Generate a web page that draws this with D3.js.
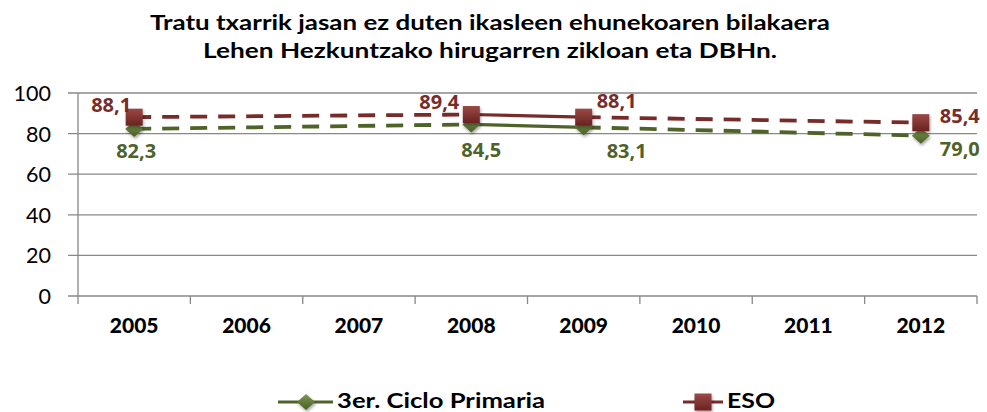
<!DOCTYPE html>
<html><head><meta charset="utf-8">
<script src="https://cdn.jsdelivr.net/npm/d3@7"></script>
<style>body{margin:0;background:#fff;}svg{display:block;}</style>
</head><body>
<script>
const categories = ["2005","2006","2007","2008","2009","2010","2011","2012"];
const primaria = [82.3, null, null, 84.5, 83.1, null, null, 79.0];
const eso = [88.1, null, null, 89.4, 88.1, null, null, 85.4];
const yTicks = [0,20,40,60,80,100];
const titleLines = ["Tratu txarrik jasan  ez duten ikasleen ehunekoaren bilakaera","Lehen Hezkuntzako hirugarren  zikloan eta DBHn."];
const seriesNames = ["3er. Ciclo Primaria","ESO"];

const W=987,H=412;
const green="#4F6228", red="#772C2A";
const svg=d3.select("body").append("svg").attr("width",W).attr("height",H);
const defs=svg.append("defs");
const f=defs.append("filter").attr("id","sh").attr("x","-50%").attr("y","-50%").attr("width","200%").attr("height","200%");
f.append("feDropShadow").attr("dx",1).attr("dy",2).attr("stdDeviation",1.5).attr("flood-color","#000").attr("flood-opacity",0.35);
const gr=defs.append("linearGradient").attr("id","gRed").attr("x1",0).attr("y1",0).attr("x2",0).attr("y2",1);
gr.append("stop").attr("offset","0%").attr("stop-color","#9a4a47");
gr.append("stop").attr("offset","100%").attr("stop-color","#6a2220");
const gg=defs.append("linearGradient").attr("id","gGreen").attr("x1",0).attr("y1",0).attr("x2",0).attr("y2",1);
gg.append("stop").attr("offset","0%").attr("stop-color","#7d9650");
gg.append("stop").attr("offset","100%").attr("stop-color","#4a5f24");

const x=d3.scaleBand().domain(categories).range([78,977]);
const y=d3.scaleLinear().domain([0,100]).range([296,93]);

// title
const titleWidths=[680,574];
svg.append("g").selectAll("text").data(titleLines).join("text")
 .attr("x",490).attr("y",(d,i)=>30+i*28).attr("text-anchor","middle")
 .attr("textLength",(d,i)=>titleWidths[i]).attr("lengthAdjust","spacingAndGlyphs")
 .attr("font-family","Lato, sans-serif").attr("font-weight","bold").attr("font-size",21).attr("fill","#000").text(d=>d);

// grid
svg.append("g").selectAll("line").data(yTicks).join("line")
 .attr("x1",68).attr("x2",977).attr("y1",d=>y(d)).attr("y2",d=>y(d))
 .attr("stroke","#888").attr("stroke-width",1.3);
// y axis
svg.append("line").attr("x1",78).attr("x2",78).attr("y1",93).attr("y2",296).attr("stroke","#888").attr("stroke-width",1.3);
svg.append("g").selectAll("text").data(yTicks).join("text")
 .attr("x",51).attr("y",d=>y(d)+8).attr("text-anchor","end")
 .attr("font-family","Lato, sans-serif").attr("font-size",21.5).attr("fill","#000").text(d=>d);
// x ticks
const bounds=categories.map(c=>x(c)).concat([x.range()[1]]);
svg.append("g").selectAll("line").data(bounds).join("line")
 .attr("x1",d=>d).attr("x2",d=>d).attr("y1",296).attr("y2",304).attr("stroke","#888").attr("stroke-width",1.3);
svg.append("g").selectAll("text").data(categories).join("text")
 .attr("x",d=>x(d)+x.bandwidth()/2).attr("y",333).attr("text-anchor","middle")
 .attr("font-family","Lato, sans-serif").attr("font-weight","900").attr("font-size",21).attr("fill","#000").text(d=>d);

function drawSeries(vals,color){
  const pts=categories.map((c,i)=>({c,v:vals[i]})).filter(d=>d.v!=null);
  const cx=d=>x(d.c)+x.bandwidth()/2;
  for(let i=0;i<pts.length-1;i++){
    const a=pts[i],b=pts[i+1];
    const ia=categories.indexOf(a.c), ib=categories.indexOf(b.c);
    svg.append("line").attr("x1",cx(a)).attr("y1",y(a.v)).attr("x2",cx(b)).attr("y2",y(b.v))
      .attr("stroke",color).attr("stroke-width",ib-ia>1?3.8:3.2)
      .attr("stroke-dasharray",ib-ia>1?"17,11":null);
  }
  return pts.map(d=>({...d,px:cx(d),py:y(d.v)}));
}
const pG=drawSeries(primaria,green);
const pR=drawSeries(eso,red);

function diamond(g,cx,cy){
  g.append("path").attr("d",`M${cx},${cy-8} L${cx+9},${cy} L${cx},${cy+8} L${cx-9},${cy} Z`)
   .attr("fill","url(#gGreen)").attr("filter","url(#sh)");
}
function square(g,cx,cy){
  g.append("rect").attr("x",cx-8.5).attr("y",cy-8.5).attr("width",17).attr("height",17)
   .attr("fill","url(#gRed)").attr("filter","url(#sh)");
}
pG.forEach(d=>diamond(svg,d.px,d.py));
pR.forEach(d=>square(svg,d.px,d.py));

// labels
const fmt=v=>v.toFixed(1).replace(".",",");
const lblG=[{dx:2,dy:29},{dx:10,dy:33},{dx:43,dy:31},{dx:39,dy:20}];
const lblR=[{dx:-23,dy:-5},{dx:-32,dy:-6},{dx:33,dy:-9},{dx:39,dy:0}];
function labels(pts,offs,color){
  svg.append("g").selectAll("text").data(pts).join("text")
   .attr("x",(d,i)=>d.px+offs[i].dx).attr("y",(d,i)=>d.py+offs[i].dy).attr("text-anchor","middle")
   .attr("font-family","Open Sans, sans-serif").attr("font-weight","bold").attr("font-size",20).attr("fill",color)
   .text(d=>fmt(d.v));
}
labels(pG,lblG,green);
labels(pR,lblR,red);

// legend
const lg=svg.append("g");
lg.append("line").attr("x1",278).attr("x2",333).attr("y1",402).attr("y2",402).attr("stroke",green).attr("stroke-width",3.2);
diamond(lg,306,402);
lg.append("text").attr("x",337).attr("y",408).attr("textLength",208).attr("lengthAdjust","spacingAndGlyphs")
 .attr("font-family","Lato, sans-serif").attr("font-weight","bold").attr("font-size",20).text(seriesNames[0]);
lg.append("line").attr("x1",683).attr("x2",723).attr("y1",402).attr("y2",402).attr("stroke",red).attr("stroke-width",3.2);
square(lg,703,402);
lg.append("text").attr("x",727).attr("y",408).attr("textLength",48).attr("lengthAdjust","spacingAndGlyphs")
 .attr("font-family","Lato, sans-serif").attr("font-weight","bold").attr("font-size",20).text(seriesNames[1]);
</script>
</body></html>
